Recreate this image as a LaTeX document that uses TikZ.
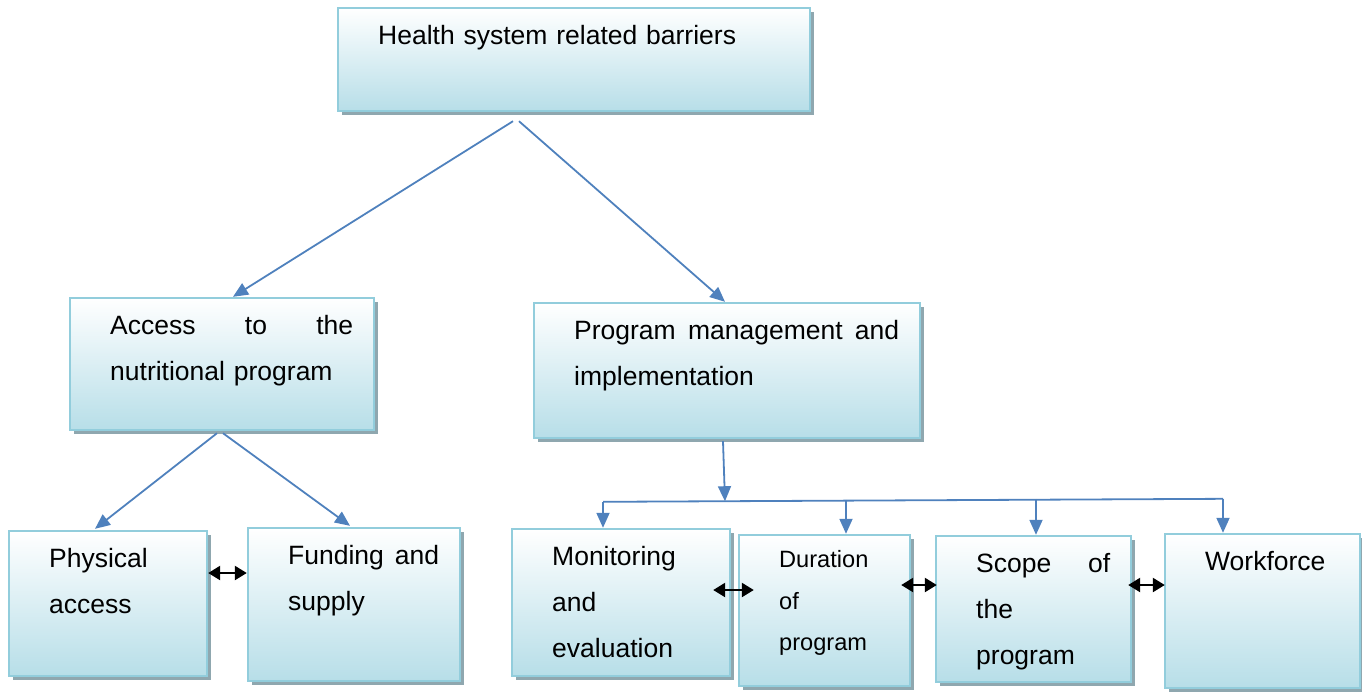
\documentclass[tikz,border=0pt]{standalone}
\usepackage{fontspec}
\setmainfont{Liberation Sans}
\usetikzlibrary{arrows.meta,shadows,fit}
\definecolor{bordc}{HTML}{92CDDC}
\definecolor{botc}{HTML}{B7DEE8}
\definecolor{shadc}{HTML}{8FA7AF}
\definecolor{arrc}{HTML}{4F81BD}
\tikzset{
 ibox/.style={draw=bordc, line width=1.2pt, top color=white, bottom color=botc, inner sep=0pt,
   general shadow={fill=shadc, shadow xshift=2pt, shadow yshift=-2pt}},
 txt/.style={anchor=base west, inner sep=0pt, align=left, font=\fontsize{13.25pt}{23pt}\selectfont},
 smalltxt/.style={txt, font=\fontsize{11.8pt}{20.75pt}\selectfont},
 conn/.style={draw=arrc, line width=0.9pt, -{Triangle[length=7.5pt,width=6.5pt]}},
 bus/.style={draw=arrc, line width=0.9pt},
 dbl/.style={line width=1.2pt, {Triangle[length=6pt,width=7pt]}-{Triangle[length=6pt,width=7pt]}},
}
\begin{document}
\begin{tikzpicture}[x=0.5pt,y=-0.5pt]
\useasboundingbox (0,0) rectangle (1362,693);
% boxes
\node[ibox, fit={(338,8)(810,111)}] (top) {};
\node[ibox, fit={(70,298)(374,430)}] (acc) {};
\node[ibox, fit={(534,303)(920,438)}] (prog) {};
\node[ibox, fit={(9,531)(207,676)}] (phys) {};
\node[ibox, fit={(248,528)(460,681)}] (fund) {};
\node[ibox, fit={(512,529)(730,676)}] (mon) {};
\node[ibox, fit={(739,535)(910,686)}] (dur) {};
\node[ibox, fit={(936,536)(1131,682)}] (scope) {};
\node[ibox, fit={(1165,534)(1360,688)}] (work) {};
% texts
\node[txt, text width=200pt] (top-t) at ([xshift=20.5pt,yshift=-19pt]top.north west) {Health system related barriers};
\node[txt, text width=121.5pt] (acc-t) at ([xshift=20.5pt,yshift=-19pt]acc.north west) {Access\hfill to\hfill the\\nutritional program};
\node[txt, text width=162.5pt] (prog-t) at ([xshift=20.5pt,yshift=-19pt]prog.north west) {Program\hfill management\hfill and\\implementation};
\node[txt, text width=70pt] (phys-t) at ([xshift=20.5pt,yshift=-19pt]phys.north west) {Physical\\access};
\node[txt, text width=75.5pt] (fund-t) at ([xshift=20.5pt,yshift=-19pt]fund.north west) {Funding\hfill and\\supply};
\node[txt, text width=80pt] (mon-t) at ([xshift=20.5pt,yshift=-19pt]mon.north west) {Monitoring\\and\\evaluation};
\node[smalltxt, text width=60pt] (dur-t) at ([xshift=20.5pt,yshift=-17pt]dur.north west) {Duration\\of\\program};
\node[txt, text width=67pt] (scope-t) at ([xshift=20.5pt,yshift=-19pt]scope.north west) {Scope\hfill of\\the\\program};
\node[txt, text width=70pt] (work-t) at ([xshift=20.5pt,yshift=-19pt]work.north west) {Workforce};
% connectors top
\draw[conn] ([xshift=-30.5pt,yshift=-4.5pt]top.south) -- ([xshift=5.5pt]acc.north);
\draw[conn] ([xshift=-27.5pt,yshift=-4.5pt]top.south) -- ([xshift=-1pt]prog.north);
\draw[conn] ([xshift=-2.5pt,yshift=-1pt]acc.south) -- ([xshift=-6.5pt,yshift=0.5pt]phys.north);
\draw[conn] ([xshift=0.5pt,yshift=-1pt]acc.south) -- ([xshift=-2pt,yshift=0.5pt]fund.north);
% bus
\coordinate (b1) at ([xshift=-9pt,yshift=13pt]mon.north);
\coordinate (b2) at ([xshift=10.75pt,yshift=17pt]dur.north);
\coordinate (b3) at ([xshift=1.25pt,yshift=18pt]scope.north);
\coordinate (b4) at ([xshift=-19.75pt,yshift=17pt]work.north);
\coordinate (bm) at ([xshift=-1pt,yshift=-31pt]prog.south);
\draw[conn] ([xshift=-2pt,yshift=-1pt]prog.south) -- (bm);
\draw[bus] (b1) -- (b4);
\draw[conn] (b1) -- ([xshift=-9pt]mon.north);
\draw[conn] (b2) -- ([xshift=10.75pt]dur.north);
\draw[conn] (b3) -- ([xshift=1.25pt]scope.north);
\draw[conn] (b4) -- ([xshift=-19.75pt]work.north);
% double arrows
\draw[dbl] ([yshift=15.25pt]phys.east) -- ([yshift=15.75pt]fund.west);
\draw[dbl] ([xshift=-9pt,yshift=6.25pt]mon.east) -- ([xshift=8pt,yshift=10.25pt]dur.west);
\draw[dbl] ([xshift=-5pt,yshift=12.75pt]dur.east) -- ([xshift=1pt,yshift=12pt]scope.west);
\draw[dbl] ([xshift=-2pt,yshift=12pt]scope.east) -- ([xshift=0.5pt,yshift=13pt]work.west);
\end{tikzpicture}
\end{document}
